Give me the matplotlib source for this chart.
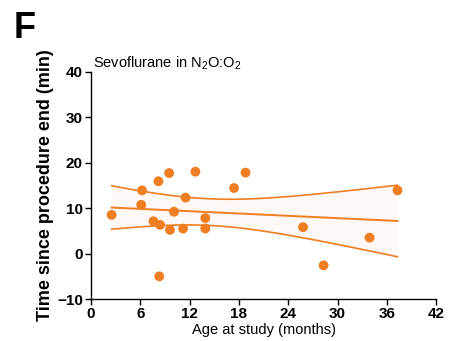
import numpy as np
import matplotlib
matplotlib.use("Agg")
import matplotlib.pyplot as plt

plt.rcParams['font.family'] = ['Liberation Sans', 'DejaVu Sans']
plt.rcParams['mathtext.fontset'] = 'custom'
plt.rcParams['mathtext.rm'] = 'Liberation Sans'
plt.rcParams['mathtext.it'] = 'Liberation Sans:italic'
plt.rcParams['mathtext.bf'] = 'Liberation Sans:bold'

# Sevoflurane in N2O:O2 group: age (months) vs time since procedure end (min)
age = [2.5, 6.2, 6.1, 8.2, 7.6, 8.4, 8.3, 9.5, 9.6, 10.1, 11.2, 11.5,
       12.7, 13.9, 13.9, 17.4, 18.8, 25.8, 28.3, 33.9, 37.3]
time_min = [8.5, 13.9, 10.7, 15.9, 7.1, 6.3, -5.0, 17.7, 5.2, 9.2, 5.5, 12.3,
            18.0, 7.8, 5.5, 14.4, 17.8, 5.8, -2.6, 3.5, 13.9]
x_ticks = [0, 6, 12, 18, 24, 30, 36, 42]
y_ticks = [-10, 0, 10, 20, 30, 40]

orange = '#EF7D22'

fig = plt.figure(figsize=(4.51, 3.41), dpi=100)
ax = fig.add_axes([0.202, 0.123, 0.765, 0.667])

x = np.array(age)
y = np.array(time_min)

# linear fit with 95% confidence band
n = len(x)
slope, intercept = np.polyfit(x, y, 1)
xs = np.linspace(x.min(), x.max(), 100)
fit = intercept + slope * xs
resid = y - (intercept + slope * x)
s = np.sqrt(np.sum(resid ** 2) / (n - 2))
t = 2.093
se = s * np.sqrt(1 / n + (xs - x.mean()) ** 2 / np.sum((x - x.mean()) ** 2))
upper = fit + t * se
lower = fit - t * se

ax.fill_between(xs, lower, upper, color='#FFF8F6', lw=0, zorder=1)
ax.plot(xs, fit, color=orange, lw=1.4, zorder=2)
ax.plot(xs, upper, color=orange, lw=1.2, zorder=2)
ax.plot(xs, lower, color=orange, lw=1.2, zorder=2)
ax.scatter(x, y, s=50, color=orange, edgecolor='none', zorder=3, clip_on=False)

ax.set_xlim(0, 42)
ax.set_ylim(-10, 40)
ax.set_xticks(x_ticks)
ax.set_yticks(y_ticks)
ax.spines['top'].set_visible(False)
ax.spines['right'].set_visible(False)
for sp in ['left', 'bottom']:
    ax.spines[sp].set_linewidth(1.0)
ax.tick_params(direction='out', length=4, width=1.0, labelsize=11, pad=2)
for lab in ax.get_xticklabels() + ax.get_yticklabels():
    lab.set_fontweight('bold')

ax.set_xlabel('Age at study (months)', fontsize=10.5, labelpad=1)
ax.set_ylabel('Time since procedure end (min)', fontsize=13, fontweight='bold', labelpad=2)
ax.set_title('Sevoflurane in N$_2$O:O$_2$', fontsize=10.5, loc='left', x=0.005, y=1.0, pad=3)

fig.text(0.03, 0.89, 'F', fontsize=26, fontweight='bold')

fig.savefig('out.png', dpi=100)
